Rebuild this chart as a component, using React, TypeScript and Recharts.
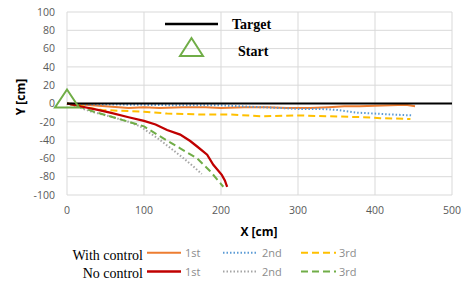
import React from "react";
import { LineChart, Line, XAxis, YAxis, CartesianGrid, Scatter } from "recharts";

const xTicks = [0, 100, 200, 300, 400, 500];
const yTicks = [-100, -80, -60, -40, -20, 0, 20, 40, 60, 80, 100];

const targetPts: [number, number][] = [[0, 0], [500, 0]];
const startPts: [number, number][] = [[0, 0]];

const withCtrl1st: [number, number][] = [
  [0, 0], [20, -1], [50, -3], [80, -5], [100, -4], [120, -5], [150, -4], [180, -4], [200, -5],
  [230, -4], [260, -4], [285, -5], [316, -5], [340, -4], [360, -3], [380, -3], [400, -2.5],
  [420, -2], [440, -1.5], [452, -3],
];
const withCtrl2nd: [number, number][] = [
  [0, 0], [20, -1], [50, -1], [100, -1.5], [150, -2], [200, -2], [250, -4], [280, -5],
  [300, -6], [330, -6], [350, -7], [376, -10], [400, -11], [420, -12], [448, -13],
];
const withCtrl3rd: [number, number][] = [
  [0, 0], [15, -2], [30, -5], [45, -7], [70, -8], [100, -9], [130, -11], [173, -12],
  [212, -12], [255, -14], [299, -13], [342, -14], [385, -15], [407, -16], [446, -17],
];
const noCtrl1st: [number, number][] = [
  [0, 0], [17, -3], [40, -7], [56, -10], [80, -15], [100, -19], [115, -23], [130, -29],
  [147, -34], [160, -41], [169, -47], [182, -56], [190, -67], [201, -78], [205, -84], [208, -91],
];
const noCtrl2nd: [number, number][] = [
  [0, 0], [15, -4], [30, -8.5], [60, -15], [80, -20], [95, -25], [121, -40], [147, -57],
  [163, -68], [175, -77],
];
const noCtrl3rd: [number, number][] = [
  [0, 0], [15, -3], [35, -9], [60, -15], [80, -20], [100, -25], [121, -36], [147, -49],
  [169, -60], [186, -74], [203, -91],
];

const toData = (pts: [number, number][]) => pts.map(([x, y]) => ({ x, y }));

const C = {
  orange: "#ED7D31",
  blue: "#5B9BD5",
  yellow: "#FFC000",
  red: "#C00000",
  gray: "#A5A5A5",
  green: "#70AD47",
};

const DOT = "1.5 2";
const DASH = "7 4";

const Triangle = (props: any) => {
  const { cx, cy } = props;
  if (cx == null || cy == null) return null;
  const pts = `${cx},${cy - 14} ${cx - 12},${cy + 4} ${cx + 12},${cy + 4}`;
  return <polygon points={pts} fill="none" stroke={C.green} strokeWidth={2} />;
};

const tickStyle = { fontFamily: "'Open Sans', sans-serif", fontSize: 10.5, fill: "#595959" };
const legendText = { fontFamily: "'Open Sans', sans-serif", fontSize: 11, fill: "#8c8c8c" };
const serif = "'Liberation Serif', 'Times New Roman', serif";

export default function App() {
  return (
    <div style={{ position: "absolute", left: 0, top: 0, width: 476, height: 283, background: "#fff", overflow: "hidden" }}>
      <LineChart width={476} height={283} margin={{ top: 12, right: 24, bottom: 58, left: 0 }}>
        <CartesianGrid stroke="#d9d9d9" strokeWidth={1} />
        <XAxis
          type="number"
          dataKey="x"
          domain={[0, 500]}
          ticks={xTicks}
          axisLine={false}
          tickLine={false}
          tickMargin={6}
          tick={tickStyle}
          height={30}
          allowDuplicatedCategory={false}
        />
        <YAxis
          type="number"
          dataKey="y"
          domain={[-100, 100]}
          ticks={yTicks}
          axisLine={false}
          tickLine={false}
          tickMargin={6}
          tick={tickStyle}
          width={67}
          interval={0}
        />
        <Line data={toData(withCtrl1st)} dataKey="y" stroke={C.orange} strokeWidth={2} dot={false} isAnimationActive={false} />
        <Line data={toData(withCtrl2nd)} dataKey="y" stroke={C.blue} strokeWidth={2} strokeDasharray={DOT} dot={false} isAnimationActive={false} />
        <Line data={toData(withCtrl3rd)} dataKey="y" stroke={C.yellow} strokeWidth={2} strokeDasharray={DASH} dot={false} isAnimationActive={false} />
        <Line data={toData(noCtrl2nd)} dataKey="y" stroke={C.gray} strokeWidth={2} strokeDasharray={DOT} dot={false} isAnimationActive={false} />
        <Line data={toData(noCtrl3rd)} dataKey="y" stroke={C.green} strokeWidth={2} strokeDasharray={DASH} dot={false} isAnimationActive={false} />
        <Line data={toData(noCtrl1st)} dataKey="y" stroke={C.red} strokeWidth={2.25} dot={false} isAnimationActive={false} />
        <Line data={toData(targetPts)} dataKey="y" stroke="#000" strokeWidth={2} dot={false} isAnimationActive={false} />
        <Scatter data={toData(startPts)} dataKey="y" shape={Triangle} isAnimationActive={false} />
      </LineChart>

      <svg width={476} height={283} style={{ position: "absolute", left: 0, top: 0, pointerEvents: "none" }}>
        <text x={20} y={97} transform="rotate(-90 20 97)" textAnchor="middle" dominantBaseline="central"
          style={{ fontFamily: "'Open Sans', sans-serif", fontSize: 12, fontWeight: 700, fill: "#000" }}>Y [cm]</text>
        <text x={259} y={231} textAnchor="middle" dominantBaseline="central"
          style={{ fontFamily: "'Open Sans', sans-serif", fontSize: 12, fontWeight: 700, fill: "#000" }}>X [cm]</text>

        <line x1={165} y1={24} x2={218} y2={24} stroke="#000" strokeWidth={2.5} />
        <text x={232} y={24} dominantBaseline="central" style={{ fontFamily: serif, fontSize: 14, fontWeight: 700 }}>Target</text>
        <polygon points="191.5,38 180,56 203,56" fill="none" stroke={C.green} strokeWidth={2} />
        <text x={238} y={51} dominantBaseline="central" style={{ fontFamily: serif, fontSize: 14, fontWeight: 700 }}>Start</text>

        <text x={143} y={255} textAnchor="end" dominantBaseline="central" style={{ fontFamily: serif, fontSize: 14 }}>With control</text>
        <line x1={147} y1={252.7} x2={181} y2={252.7} stroke={C.orange} strokeWidth={2} />
        <text x={185} y={252.7} dominantBaseline="central" style={legendText}>1st</text>
        <line x1={223} y1={252.7} x2={256} y2={252.7} stroke={C.blue} strokeWidth={2} strokeDasharray={DOT} />
        <text x={262} y={252.7} dominantBaseline="central" style={legendText}>2nd</text>
        <line x1={301} y1={252.7} x2={336} y2={252.7} stroke={C.yellow} strokeWidth={2} strokeDasharray={DASH} />
        <text x={339} y={252.7} dominantBaseline="central" style={legendText}>3rd</text>

        <text x={143} y={273.5} textAnchor="end" dominantBaseline="central" style={{ fontFamily: serif, fontSize: 14 }}>No control</text>
        <line x1={147} y1={271.5} x2={181} y2={271.5} stroke={C.red} strokeWidth={2.5} />
        <text x={185} y={271.5} dominantBaseline="central" style={legendText}>1st</text>
        <line x1={223} y1={271.5} x2={256} y2={271.5} stroke={C.gray} strokeWidth={2} strokeDasharray={DOT} />
        <text x={262} y={271.5} dominantBaseline="central" style={legendText}>2nd</text>
        <line x1={301} y1={271.5} x2={336} y2={271.5} stroke={C.green} strokeWidth={2} strokeDasharray={DASH} />
        <text x={339} y={271.5} dominantBaseline="central" style={legendText}>3rd</text>
      </svg>
    </div>
  );
}
